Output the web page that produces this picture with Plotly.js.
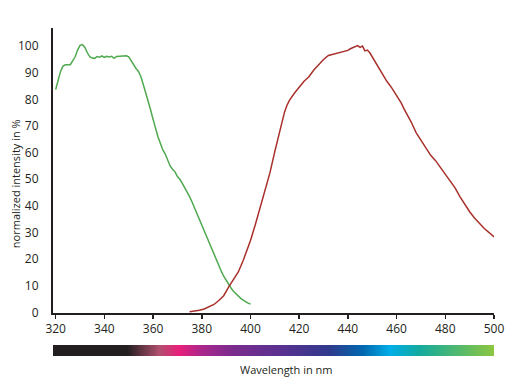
<!DOCTYPE html>
<html>
<head>
<meta charset="utf-8">
<script src="https://cdn.plot.ly/plotly-3.0.1.min.js"></script>
<style>html,body{margin:0;padding:0;background:#fff;}#chart{width:512px;height:386px;}</style>
</head>
<body>
<div id="chart"></div>
<script>
// Excitation (green) spectrum
const excWavelength = [320,321,322,323,324,326,327,328,329,330,331,332,333,334,335,336,337,338,339,340,341,342,343,344,345,346,347,348,349,350,351,352,353,354,355,356,357,358,359,360,361,362,363,364,365,366,367,368,369,370,371,372,373,374,375,376,377,378,379,380,381,382,383,384,385,386,387,388,389,390,391,392,393,394,395,396,397,398,399,400];
const excIntensity = [83.7,87,90.5,92.5,93,93,94.5,96,98.5,100.3,100.6,99.5,97.5,96,95.5,95.4,96.1,95.8,96.3,95.8,96.2,95.9,96.2,95.4,96.1,96.2,96.3,96.4,96.4,96,94.5,92.8,91.6,90.5,88.5,85.5,82.5,79.5,76,72.5,69,66,63.5,61,59.5,57.5,55,53.8,52.8,51,50,48.5,47,45.2,43.5,41.5,39.3,37,34.7,32.5,30.3,28.2,26,23.8,21.8,19.5,17.5,15.5,13.6,12,10.5,9.2,8,7,6.1,5.3,4.6,4,3.5,3.2];

// Emission (red) spectrum
const emWavelength = [375,377,379,381,383,385,387,389,391,393,395,397,399,400,402,404,406,408,410,412,413,414,415,416,418,420,422,424,426,428,430,432,434,436,438,440,441,442,443,444,445,446,447,448,449,450,452,454,456,458,460,462,463,464,466,468,470,472,474,476,478,480,482,484,486,488,490,492,494,496,498,500];
const emIntensity = [0.3,0.5,0.8,1.3,2,3,4.5,6.3,9.5,12.5,15.2,19.5,24.5,27,33,39.5,46,52.5,60.5,68,72,75.3,77.8,79.6,82.3,84.5,86.8,88.5,91,93,95,96.5,97,97.6,98,98.4,99,99.4,99.8,100.2,99.5,100,98.2,98.5,97.5,96,92.5,89.5,86.8,84.3,81.5,78.5,76.5,75,71.5,67.5,64.5,61.5,59,57,54.5,52.2,49.5,46.8,43.5,40.5,37.8,35.5,33.5,31.5,30,28.4];

// Tick labels
const xTicks = [320,340,360,380,400,420,440,460,480,500];
const yTicks = [0,10,20,30,40,50,60,70,80,90,100];

// Spectrum colour bar: wavelength stops and colours
const barStopNm = [318.5,349,362,370,380,392,412,432,446,457,469,500];
const barStopColor = ['#231f20','#231f20','#b0506e','#e8207a','#a8278c','#7b2c8e','#5a3190','#2f3a8c','#0068b0','#00aee8','#14aa9f','#8dc63f'];

const barX = [];
for (let w = 318.5; w <= 500.001; w += 0.5) barX.push(w);
const lo = barStopNm[0], hi = barStopNm[barStopNm.length-1];
const colorscale = barStopNm.map((n,i)=>[(n-lo)/(hi-lo), barStopColor[i]]);

const font = {family: '"Open Sans", "DejaVu Sans", sans-serif', size: 11, color: '#231f20'};
const tickFont = {family: '"Open Sans", "DejaVu Sans", sans-serif', size: 12, color: '#231f20'};

const traces = [
  {x: excWavelength, y: excIntensity, type: 'scatter', mode: 'lines',
   line: {color: '#4fa94f', width: 1.5}, xaxis: 'x', yaxis: 'y', hoverinfo: 'skip'},
  {x: emWavelength, y: emIntensity, type: 'scatter', mode: 'lines',
   line: {color: '#a8302b', width: 1.5}, xaxis: 'x', yaxis: 'y', hoverinfo: 'skip'},
  {type: 'heatmap', x: barX, y: [0,1], z: [barX, barX], colorscale: colorscale,
   zmin: lo, zmax: hi, zsmooth: 'best', showscale: false, xaxis: 'x2', yaxis: 'y2', hoverinfo: 'skip'}
];

const layout = {
  width: 512, height: 386,
  margin: {l: 53, r: 18, t: 28, b: 30},
  paper_bgcolor: '#fff', plot_bgcolor: '#fff',
  showlegend: false,
  font: font,
  xaxis: {range: [318.9, 500], domain: [0,1], anchor: 'y', tickvals: xTicks, ticks: 'outside',
          ticklen: 4, tickwidth: 1.5, tickcolor: '#231f20', showline: true, linewidth: 2,
          linecolor: '#231f20', showgrid: false, zeroline: false, tickfont: tickFont},
  yaxis: {range: [-0.2, 106.8], domain: [0.1311, 1], anchor: 'x', tickvals: yTicks, ticks: '',
          ticklabelstandoff: 10, showline: true, linewidth: 2, linecolor: '#231f20',
          showgrid: false, zeroline: false, tickfont: tickFont},
  xaxis2: {range: [318.5, 500], domain: [0,1], anchor: 'y2', visible: false, fixedrange: true},
  yaxis2: {range: [0, 1], domain: [0, 0.0335], anchor: 'x2', visible: false, fixedrange: true},
  annotations: [
    {text: 'Wavelength in nm', xref: 'paper', yref: 'paper', x: 0.528, y: -0.04,
     xanchor: 'center', yanchor: 'middle', showarrow: false, font: font},
    {text: 'normalized intensity in %', xref: 'paper', yref: 'paper', x: -0.0862, y: 0.527,
     xanchor: 'center', yanchor: 'middle', textangle: -90, showarrow: false, font: font}
  ]
};

Plotly.newPlot('chart', traces, layout, {staticPlot: true, displayModeBar: false});
</script>
</body>
</html>
